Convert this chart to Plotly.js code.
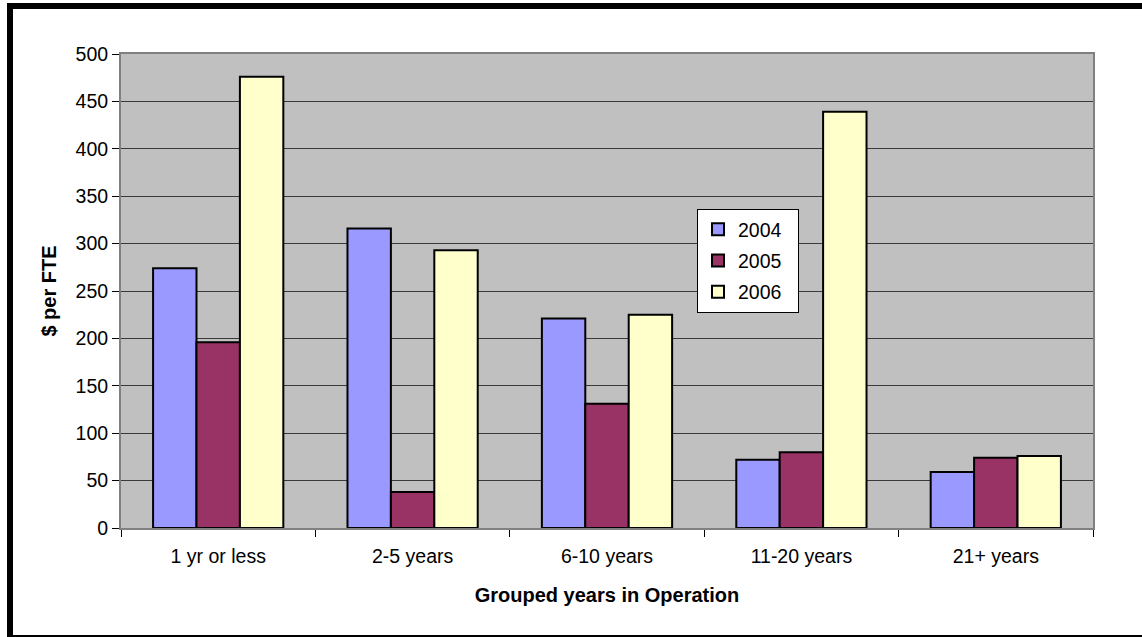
<!DOCTYPE html>
<html>
<head>
<meta charset="utf-8">
<script src="https://cdn.plot.ly/plotly-3.0.1.min.js"></script>
<style>
  html, body { margin: 0; padding: 0; background: #ffffff; }
  #wrap { position: relative; width: 1142px; height: 637px; overflow: hidden; }
  #chart { position: absolute; left: 0; top: 0; width: 1142px; height: 637px; }
  #frame { position: absolute; left: 7px; top: 3px; width: 1150px; height: 626px;
           border-left: 6px solid #000; border-top: 6px solid #000; border-bottom: 6px solid #000;
           pointer-events: none; }
</style>
</head>
<body>
<div id="wrap">
  <div id="chart"></div>
  <div id="frame"></div>
</div>
<script>
const categories = ["1 yr or less", "2-5 years", "6-10 years", "11-20 years", "21+ years"];
const seriesNames = ["2004", "2005", "2006"];
const values2004 = [274, 316, 221, 72, 59];
const values2005 = [196, 38, 131, 80, 74];
const values2006 = [476, 293, 225, 439, 76];
const colors = ["#9999FF", "#993366", "#FFFFCC"];
const yTicks = [0, 50, 100, 150, 200, 250, 300, 350, 400, 450, 500];

const allValues = [values2004, values2005, values2006];
const traces = allValues.map((vals, i) => ({
  type: "bar",
  name: seriesNames[i] + "  ",
  x: categories,
  y: vals,
  legendgroup: "g" + i,
  marker: { color: colors[i], line: { color: "#000000", width: 2 } },
  hoverinfo: "x+y+name"
}));

const fontFamily = "Liberation Sans, Arial, sans-serif";

const layout = {
  width: 1142,
  height: 637,
  margin: { l: 121, r: 49, t: 54, b: 109 },
  paper_bgcolor: "rgba(0,0,0,0)",
  plot_bgcolor: "#C0C0C0",
  font: { family: fontFamily, size: 19.5, color: "#000000" },
  barmode: "group",
  bargap: 0.33,
  bargroupgap: 0,
  showlegend: true,
  legend: {
    x: 0.5926, y: 0.673, xanchor: "left", yanchor: "top",
    bgcolor: "#FFFFFF", bordercolor: "#000000", borderwidth: 1,
    font: { size: 19.5, family: fontFamily },
    traceorder: "grouped", tracegroupgap: 3,
    itemwidth: 30
  },
  xaxis: {
    type: "category",
    tickson: "boundaries",
    ticks: "outside", ticklen: 7, tickcolor: "#000000", tickwidth: 1,
    ticklabelstandoff: 10,
    showline: true, linecolor: "#808080", linewidth: 2, mirror: true,
    showgrid: false,
    tickfont: { size: 19.5 },
    title: { text: "<b>Grouped years in Operation</b>", font: { size: 20 }, standoff: 22 }
  },
  yaxis: {
    range: [0, 500],
    tickvals: yTicks,
    ticks: "outside", ticklen: 7, tickcolor: "#000000", tickwidth: 1,
    showline: true, linecolor: "#808080", linewidth: 2, mirror: true,
    showgrid: true, gridcolor: "#3a3a3a", gridwidth: 1,
    zeroline: false,
    tickfont: { size: 19.5 },
    title: { text: "<b>$ per FTE</b>", font: { size: 20 }, standoff: 14 }
  }
};

Plotly.newPlot("chart", traces, layout, { displayModeBar: false, staticPlot: true });
</script>
</body>
</html>
